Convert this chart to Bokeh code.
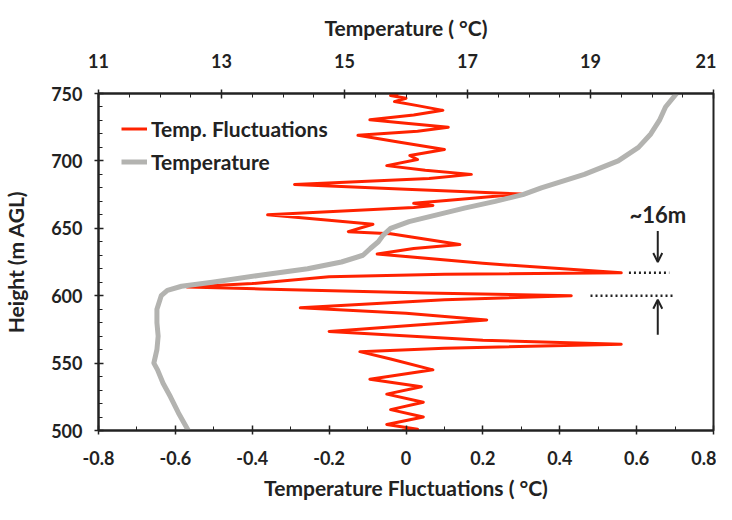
from bokeh.plotting import figure
from bokeh.models import (Range1d, LinearAxis, FixedTicker, Legend, LegendItem,
                          Arrow, OpenHead, Label, CustomJSTickFormatter)
from bokeh.embed import file_html
from bokeh.resources import INLINE

# ---- data ----
fluct_x = [-0.02, -0.04, 0.00, -0.03, 0.03, 0.096, 0.02, -0.094, 0.00, 0.11, 0.03, -0.125,
           -0.02, 0.10, 0.01, 0.03, -0.05, 0.05, 0.17, 0.06, -0.29, 0.00, 0.30, 0.12, 0.02,
           0.07, 0.02, -0.36, -0.20, -0.086, -0.15, -0.04, 0.14, 0.02, -0.075, 0.20, 0.56,
           0.10, -0.20, -0.40, -0.57, -0.38, 0.05, 0.43, 0.10, -0.275, 0.00, 0.21, 0.02,
           -0.20, 0.20, 0.56, 0.10, -0.12, -0.04, 0.07, -0.094, 0.04, -0.05, 0.045, -0.04,
           0.045, -0.05, 0.03, -0.01]
fluct_h = [750, 748.5, 746.5, 744, 741, 737.5, 734, 730.5, 728, 725, 722, 719,
           714, 708.5, 704, 701, 696.5, 693, 690, 687, 682.5, 679, 675.5, 671, 668.5,
           667, 665.5, 660, 656, 653, 647.5, 646, 638, 635, 631, 624, 617,
           616, 614, 609, 606.5, 605, 602, 600, 597, 591, 587, 582, 578,
           573.5, 567, 564, 561, 558.5, 553, 545, 538, 532.5, 527, 521, 515.5,
           510, 504.5, 501, 500]

temp_x = [20.40, 20.22, 20.12, 19.98, 19.78, 19.45, 18.90, 18.20, 17.90, 17.45, 16.95,
          16.50, 16.05, 15.75, 15.63, 15.55, 15.42, 15.30, 14.95, 14.40, 13.60, 12.85,
          12.35, 12.12, 12.02, 11.95, 11.95, 11.97, 11.95, 11.90, 11.96, 12.05, 12.17,
          12.30, 12.46]
temp_h = [750, 740, 730, 720, 710, 700, 690, 680, 675, 670, 665,
          660, 655, 650, 645, 640, 635, 630, 625, 620, 615, 610,
          607, 604, 600, 590, 580, 570, 560, 550, 545, 535, 525,
          513, 500]

x_ticks = [-0.8, -0.6, -0.4, -0.2, 0, 0.2, 0.4, 0.6, 0.8]
x_minor = [-0.8, -0.7, -0.6, -0.5, -0.4, -0.3, -0.2, -0.1, 0, 0.1, 0.2, 0.3, 0.4, 0.5, 0.6, 0.7, 0.8]
t_ticks = [11, 13, 15, 17, 19, 21]
t_minor = [11, 11.5, 12, 12.5, 13, 13.5, 14, 14.5, 15, 15.5, 16, 16.5, 17, 17.5, 18, 18.5,
           19, 19.5, 20, 20.5, 21]
y_ticks = [500, 550, 600, 650, 700, 750]
y_minor = list(range(500, 751, 10))

# annotation geometry (data units)
ann_x = 0.655
ann_text_y = 660
arrow_down = (648, 625)
arrow_up = (571, 597)
dot1 = ([0.58, 0.685], [617, 617])
dot2 = ([0.48, 0.695], [600, 600])

FONT = "Lato"
INK = "#222222"

p = figure(width=716, height=504, output_backend="svg", toolbar_location=None,
           x_range=Range1d(-0.8, 0.8), y_range=Range1d(500, 750),
           min_border_left=97, min_border_right=3, min_border_top=93, min_border_bottom=74)
p.extra_x_ranges = {"temp": Range1d(11, 21)}
p.xgrid.visible = False
p.ygrid.visible = False
p.outline_line_color = INK
p.outline_line_width = 2
p.background_fill_color = "white"
p.border_fill_color = "white"

bottom = p.below[0]
left = p.left[0]
top = LinearAxis(x_range_name="temp")
p.add_layout(top, "above")

def style_axis(ax, title, ticker, std, title_std):
    ax.axis_label = title
    ax.ticker = ticker
    ax.axis_line_color = INK
    ax.axis_line_width = 2
    ax.major_tick_line_color = INK
    ax.major_tick_line_width = 1.5
    ax.minor_tick_line_color = INK
    ax.minor_tick_line_width = 1
    ax.major_tick_in = 5
    ax.major_tick_out = 4
    ax.minor_tick_in = 4
    ax.minor_tick_out = 0
    ax.major_label_text_font = FONT
    ax.major_label_text_font_style = "bold"
    ax.major_label_text_font_size = "18px"
    ax.major_label_text_color = INK
    ax.major_label_standoff = std
    ax.axis_label_text_font = FONT
    ax.axis_label_text_font_style = "bold"
    ax.axis_label_text_font_size = "21px"
    ax.axis_label_text_color = INK
    ax.axis_label_standoff = title_std

style_axis(bottom, "Temperature Fluctuations ( °C)", FixedTicker(ticks=x_ticks, minor_ticks=x_minor), 16, 7)
bottom.formatter = CustomJSTickFormatter(code="return tick == 0 ? '0' : tick.toFixed(1);")
style_axis(top, "Temperature ( °C)", FixedTicker(ticks=t_ticks, minor_ticks=t_minor), 22, 11)
style_axis(left, "Height (m AGL)", FixedTicker(ticks=y_ticks, minor_ticks=y_minor), 12, 20)

r_red = p.line(fluct_x, fluct_h, line_color="#ff2200", line_width=3, line_join="round")
r_gray = p.line(temp_x, temp_h, line_color="#b3b3b0", line_width=5, line_join="round",
                x_range_name="temp")

legend = Legend(items=[LegendItem(label="Temp. Fluctuations", renderers=[r_red]),
                       LegendItem(label="Temperature", renderers=[r_gray])],
                location="top_left", margin=14, padding=9, spacing=8,
                glyph_width=26, glyph_height=25, label_height=25, label_standoff=4,
                label_text_font=FONT, label_text_font_style="bold",
                label_text_font_size="21px", label_text_color=INK,
                border_line_alpha=0, background_fill_alpha=0)
p.add_layout(legend)

# annotations: dotted markers, arrows and label
p.line(dot1[0], dot1[1], line_color=INK, line_width=2.5, line_dash="2 3")
p.line(dot2[0], dot2[1], line_color=INK, line_width=2.5, line_dash="2 3")
p.add_layout(Arrow(end=OpenHead(size=9, line_width=2, line_color=INK), line_width=2,
                   line_color=INK, x_start=ann_x, y_start=arrow_down[0],
                   x_end=ann_x, y_end=arrow_down[1]))
p.add_layout(Arrow(end=OpenHead(size=9, line_width=2, line_color=INK), line_width=2,
                   line_color=INK, x_start=ann_x, y_start=arrow_up[0],
                   x_end=ann_x, y_end=arrow_up[1]))
p.add_layout(Label(x=ann_x, y=ann_text_y, text="~16m", text_align="center",
                   text_baseline="middle", text_font=FONT, text_font_style="bold",
                   text_font_size="22px", text_color=INK))

open("out.html", "w").write(file_html(p, INLINE))
